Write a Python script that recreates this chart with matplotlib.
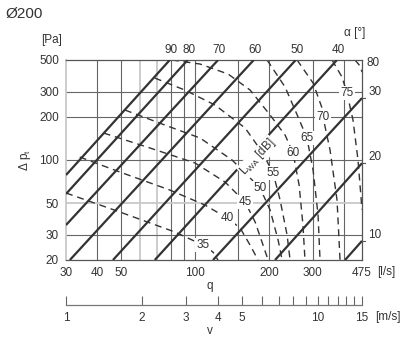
import matplotlib
matplotlib.use("Agg")
import matplotlib.pyplot as plt
from matplotlib.ticker import NullLocator, NullFormatter
from matplotlib.transforms import offset_copy

plt.rcParams['font.family'] = ['Liberation Sans', 'DejaVu Sans']
plt.rcParams['mathtext.fontset'] = 'custom'
plt.rcParams['mathtext.rm'] = 'Liberation Sans'
plt.rcParams['mathtext.it'] = 'Liberation Sans:italic'

ink = '#333333'
light = '#c8c8c8'

# axes / grid
q_ticks = [30, 40, 50, 100, 200, 300, 475]
dp_ticks = [20, 30, 50, 100, 200, 300, 500]
q_grid = [40, 50, 60, 70, 80, 90, 100, 150, 200, 300, 400]
q_grid_light = [60, 70]
dp_grid = [30, 50, 100, 200, 300]
dp_grid_light = [50]
v_major = [1, 2, 3, 4, 5, 10, 15]
v_minor = [6, 7, 8, 9, 11, 12, 13, 14]

# damper angle lines, start / end points
alpha = [90, 80, 70, 60, 50, 40, 30, 20, 10]
alpha_q0 = [30, 30, 30, 31.1, 46.5, 68.7, 118.3, 211, 405.6]
alpha_dp0 = [78.5, 57.9, 35.1, 20, 20, 20, 20, 20, 20]
alpha_q1 = [79.0, 93.4, 124, 173, 256, 376, 475, 475, 475]
alpha_dp1 = [500, 500, 500, 500, 500, 500, 271, 95, 27.2]

# sound power level curves L_WA
lwa_levels = [35, 40, 45, 50, 55, 60, 65, 70, 75, 80]
lwa_q = [
    [30, 49.6, 82.8, 107.8, 118.3, 123.9],
    [34.1, 49.6, 79.0, 109.8, 134.9, 152.3, 167.2, 180.1],
    [42.6, 65.7, 100, 132.4, 159.6, 175.2, 188.7, 197.8],
    [52.0, 75.4, 104.8, 141.3, 170.4, 183.5, 201.5, 217.1, 225.4],
    [68.7, 90.9, 120.5, 159.6, 186.9, 207.2, 221.2, 236.1, 242.8],
    [80.5, 104.8, 136.2, 167.2, 201.5, 231.7, 249.7, 264.1, 273.8, 279.0],
    [195.9, 231.7, 261.6, 284.2, 300.9, 315.2, 321.1],
    [259.2, 300.9, 327.2, 330.2, 352.5, 376.3, 386.9],
    [359.1, 394.2, 412.9, 436.7, 457.6, 475],
    [445, 466.6, 475],
]
lwa_dp = [
    [58.8, 43.3, 31.4, 25.4, 22.7, 20],
    [104.9, 82.4, 61.7, 48.4, 39.3, 33.5, 25.4, 20],
    [154.4, 121.3, 95.3, 70.1, 50.8, 36.9, 25.4, 20],
    [223.5, 175.6, 142.5, 100, 72.4, 63.7, 44.7, 27.6, 20],
    [374.0, 308.3, 242.2, 167.3, 113.7, 81.1, 52.5, 29.9, 20],
    [500, 468.6, 398.8, 308.3, 206.2, 149.5, 111.9, 66.9, 35.1, 20],
    [500, 323.7, 199.7, 142.5, 85.1, 41.3, 20],
    [500, 345.2, 230.8, 199.7, 117.4, 52.5, 20],
    [500, 380.1, 293.8, 190.3, 100, 45],
    [500, 453.6, 411.9],
]
lwa_label_q = [107.8, 134.9, 159.6, 183.5, 207.2, 249.7, 284.2, 330.2, 412.9, 526.8]
lwa_label_dp = [25.4, 39.3, 50.8, 63.7, 81.1, 111.9, 142.5, 199.7, 293.8, 476]

fig = plt.figure(figsize=(4, 3.64), dpi=100)
ax = fig.add_axes([66/400, 1-260/364, 296/400, 200/364])
ax.set_xscale('log')
ax.set_yscale('log')
ax.set_xlim(30, 475)
ax.set_ylim(20, 500)

for q in q_grid:
    c, w = (light, 1.3) if q in q_grid_light else ('#666666', 0.8)
    ax.axvline(q, color=c, lw=w, zorder=1)
for p in dp_grid:
    c, w = (light, 1.3) if p in dp_grid_light else ('#666666', 0.8)
    ax.axhline(p, color=c, lw=w, zorder=1)

for sp in ax.spines.values():
    sp.set_color('#555555')
    sp.set_linewidth(0.9)
ax.spines['left'].set_color(light)
ax.spines['left'].set_linewidth(1.3)

ax.set_xticks(q_ticks, labels=[str(v) for v in q_ticks])
ax.set_yticks(dp_ticks, labels=[str(v) for v in dp_ticks])
ax.xaxis.set_minor_locator(NullLocator())
ax.yaxis.set_minor_locator(NullLocator())
ax.tick_params(length=0, labelsize=8.5, colors=ink, pad=5)

# damper lines
for i in range(len(alpha)):
    ax.plot([alpha_q0[i], alpha_q1[i]], [alpha_dp0[i], alpha_dp1[i]],
            color=ink, lw=1.6, zorder=3, solid_capstyle='butt')
top_tr = offset_copy(ax.transData, fig=fig, x=1, y=10, units='dots')
right_tr = offset_copy(ax.transData, fig=fig, x=13, y=6, units='dots')
for i in range(len(alpha)):
    if alpha_dp1[i] >= 500:
        ax.text(alpha_q1[i], alpha_dp1[i], str(alpha[i]), transform=top_tr,
                ha='center', va='center', fontsize=8.5, color=ink, clip_on=False)
    else:
        ax.text(alpha_q1[i], alpha_dp1[i], str(alpha[i]), transform=right_tr,
                ha='center', va='center', fontsize=8.5, color=ink, clip_on=False)
        ax.plot([alpha_q1[i], alpha_q1[i] * 1.025], [alpha_dp1[i], alpha_dp1[i]],
                color='#555555', lw=0.8, clip_on=False)

# sound level curves
for i in range(len(lwa_levels)):
    ax.plot(lwa_q[i], lwa_dp[i], color=ink, lw=1.0, ls=(0, (5, 3.5)), zorder=2)
    ax.text(lwa_label_q[i], lwa_label_dp[i], str(lwa_levels[i]), ha='center', va='center',
            fontsize=8.5, color=ink, zorder=4,
            bbox=dict(boxstyle='square,pad=0.1', fc='white', ec='none'))

ax.text(180, 105, 'L$_{\\mathrm{WA}}$ [dB]', rotation=47, rotation_mode='anchor',
        ha='center', va='center', fontsize=8.5, color=ink, zorder=4,
        bbox=dict(boxstyle='square,pad=0.05', fc='white', ec='none'))

# velocity scale
ax_v = fig.add_axes([66/400, 1-305/364, 296/400, 0.001])
ax_v.set_xscale('log')
ax_v.set_xlim(1, 15)
ax_v.set_xticks(v_major, labels=[str(v) for v in v_major])
ax_v.set_xticks(v_minor, minor=True)
ax_v.xaxis.set_minor_formatter(NullFormatter())
ax_v.yaxis.set_visible(False)
for s in ['top', 'left', 'right']:
    ax_v.spines[s].set_visible(False)
ax_v.spines['bottom'].set_color('#777777')
ax_v.spines['bottom'].set_linewidth(0.9)
ax_v.patch.set_visible(False)
ax_v.tick_params(axis='x', which='both', direction='in', length=6.5, width=0.8,
                 color='#666666', labelsize=8.5, labelcolor=ink, pad=5)

fig.text(5/400, 1-14/364, 'Ø200', fontsize=11, color=ink, ha='left', va='center')
fig.text(52/400, 1-40/364, '[Pa]', fontsize=8.5, color=ink, ha='center', va='center')
fig.text(355/400, 1-33/364, 'α [°]', fontsize=8.5, color=ink, ha='center', va='center')
fig.text(25/400, 1-160/364, 'Δ p$_{\\mathrm{t}}$', fontsize=8.5, color=ink, rotation=90,
         ha='center', va='center')
fig.text(386/400, 1-272/364, '[l/s]', fontsize=8.5, color=ink, ha='center', va='center')
fig.text(388/400, 1-317/364, '[m/s]', fontsize=8.5, color=ink, ha='center', va='center')
fig.text(210/400, 1-286/364, 'q', fontsize=8.5, color=ink, ha='center', va='center')
fig.text(210/400, 1-331/364, 'v', fontsize=8.5, color=ink, ha='center', va='center')

fig.savefig('out.png', dpi=100)
